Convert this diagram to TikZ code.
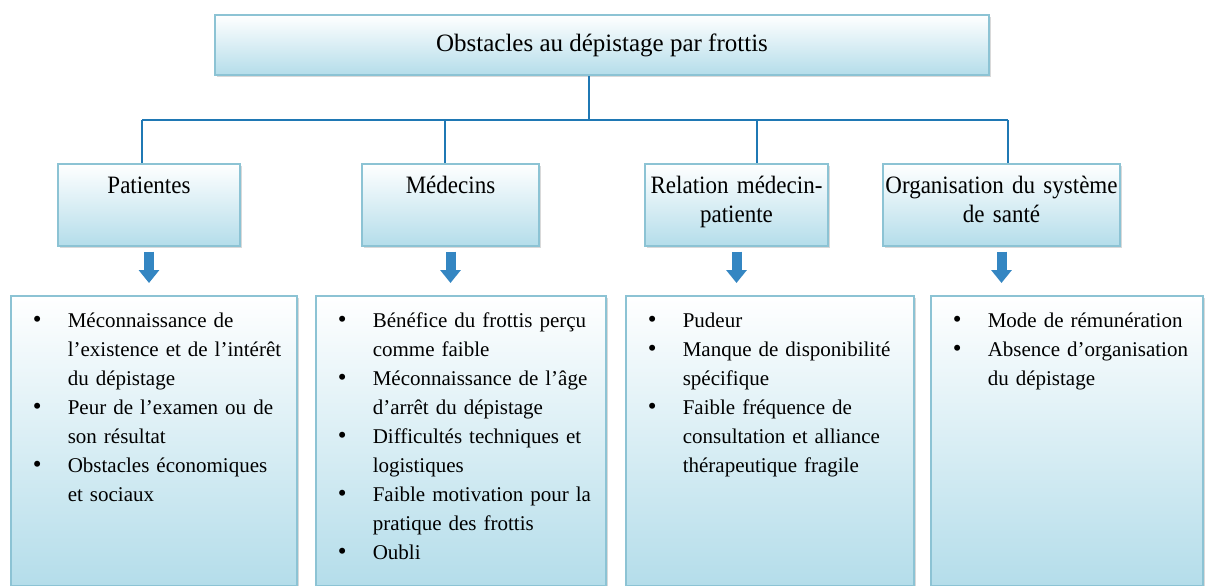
\documentclass[tikz,border=0pt]{standalone}
\usepackage{fontspec}
\setmainfont{Liberation Serif}
\newfontfamily\labelfont[FakeStretch=0.92]{Liberation Serif}
\usetikzlibrary{arrows.meta,shadows}
\definecolor{FrameBlue}{RGB}{140,195,212}
\definecolor{PaleBlue}{RGB}{180,221,234}
\definecolor{LinkBlue}{RGB}{31,120,180}
\definecolor{ArrowBlue}{RGB}{52,134,194}
\newcommand{\obstacle}[1]{\noindent\hangindent=17.5pt\hangafter=1\makebox[17.5pt][l]{{\fontsize{12.5}{14.5}\selectfont\textbullet}}#1\par}

\begin{document}
\begin{tikzpicture}[x=0.5pt,y=-0.5pt,
      >={Triangle[width=10pt,length=6.5pt]},
      box/.style={draw=FrameBlue,line width=0.8pt,top color=white,bottom color=PaleBlue,
                  drop shadow={shadow xshift=1.2pt,shadow yshift=-1.2pt,opacity=0.3}},
      head/.style={box,minimum width=387pt,minimum height=30pt,font=\fontsize{12.5}{15}\selectfont},
      cat/.style={box,inner ysep=0pt,inner xsep=-8pt,text height=15pt,text depth=26pt,align=center,
                  font=\labelfont\fontsize{12.5}{14.5}\selectfont,anchor=north},
      lst/.style={box,inner sep=0pt,text height=16pt,text depth=129pt,align=left,
                  font=\fontsize{10.5}{14.5}\selectfont,anchor=north west},
      link/.style={draw=LinkBlue,line width=1pt},
      down/.style={->,draw=ArrowBlue,line width=5pt,shorten <=2.5pt,shorten >=6pt}]
    \useasboundingbox (0,0) rectangle (1206,585);
    \node[head] (title) at (602,45) {Obstacles au dépistage par frottis};
    \node[cat,text width=107pt] (pat) at (149,163) {Patientes};
    \node[cat,text width=104.5pt] (med) at (450.5,163) {Médecins};
    \node[cat,text width=107.5pt] (rel) at (736.5,163) {Relation médecin-\\patiente};
    \node[cat,text width=134.5pt] (org) at (1001.5,163) {Organisation du système\\de santé};
    \node[lst,text width=143pt] (l1) at (10,295) {\leftskip=11pt
      \obstacle{Méconnaissance de\newline l’existence et de l’intérêt\newline du dépistage}
      \obstacle{Peur de l’examen ou de\newline son résultat}
      \obstacle{Obstacles économiques\newline et sociaux}};
    \node[lst,text width=145pt] (l2) at (315,295) {\leftskip=11pt
      \obstacle{Bénéfice du frottis perçu\newline comme faible}
      \obstacle{Méconnaissance de l’âge\newline d’arrêt du dépistage}
      \obstacle{Difficultés techniques et\newline logistiques}
      \obstacle{Faible motivation pour la\newline pratique des frottis}
      \obstacle{Oubli}};
    \node[lst,text width=144pt] (l3) at (625,295) {\leftskip=11pt
      \obstacle{Pudeur}
      \obstacle{Manque de disponibilité\newline spécifique}
      \obstacle{Faible fréquence de\newline consultation et alliance\newline thérapeutique fragile}};
    \node[lst,text width=136pt] (l4) at (930,295) {\leftskip=11pt
      \obstacle{Mode de rémunération}
      \obstacle{Absence d’organisation\newline du dépistage}};
    % tree links
    \coordinate (hub) at (589,120);
    \coordinate (jp) at (142,120);
    \coordinate (jm) at (445,120);
    \coordinate (jr) at (757,120);
    \coordinate (jo) at (1008,120);
    \draw[link] (title.south -| hub) -- (hub);
    \draw[link] (jp) -- (jo);
    \foreach \j/\c in {jp/pat,jm/med,jr/rel,jo/org}
      \draw[link] (\j) -- (\j |- \c.north);
    \foreach \c/\l in {pat/l1,med/l2,rel/l3,org/l4}
      \draw[down] (\c.south) -- (\c.south |- \l.north);
  \end{tikzpicture}
\end{document}
